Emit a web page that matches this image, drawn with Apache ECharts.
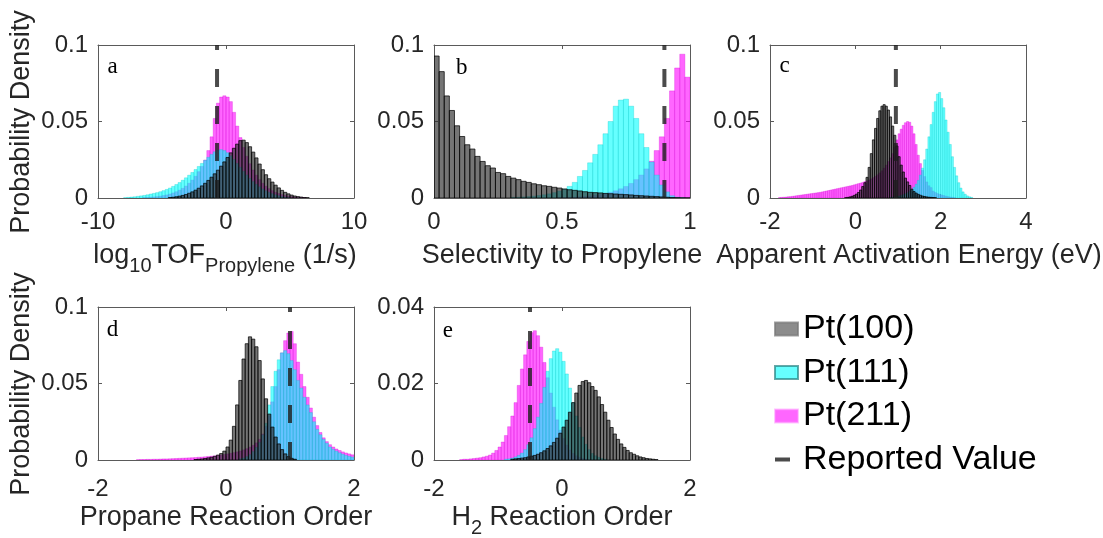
<!DOCTYPE html>
<html><head><meta charset="utf-8">
<script src="https://cdn.jsdelivr.net/npm/echarts@6/dist/echarts.min.js"></script>
<style>html,body{margin:0;padding:0;background:#fff}#c{width:1103px;height:538px}</style>
</head><body><div id="c"></div>
<script>
// ---------------- DATA ----------------
const names = ['Pt(100)', 'Pt(111)', 'Pt(211)'];
const reportedName = 'Reported Value';
const letters = ['a', 'b', 'c', 'd', 'e'];
const xMin = [-10, 0, -2, -2, -2];
const xMax = [10, 1, 4, 2, 2];
const xStep = [10, 0.5, 2, 2, 2];
const yMax = [0.1, 0.1, 0.1, 0.1, 0.04];
const yStep = [0.05, 0.05, 0.05, 0.05, 0.02];
const reported = [-0.7, 0.9, 0.95, 1.0, -0.5];
const binWidth = [0.25, 0.02, 0.05, 0.05, 0.05];

// panel a : log10 TOF
const aGrayStart = -4.5;
const aGray = [0.0003,0.0005,0.0008,0.0012,0.0017,0.0023,0.0031,0.0040,0.0051,0.0064,0.0079,0.0096,0.0115,0.0136,0.0158,0.0182,0.0208,0.0236,0.0265,0.0295,0.0325,0.0352,0.0375,0.0378,0.0362,0.0335,0.0300,0.0262,0.0222,0.0185,0.0152,0.0126,0.0104,0.0084,0.0066,0.0050,0.0037,0.0027,0.0019,0.0013,0.0009,0.0006,0.0003,0.0002];
const aCyanStart = -8;
const aCyan = [0.0002,0.0004,0.0006,0.0008,0.0011,0.0014,0.0017,0.0021,0.0026,0.0030,0.0035,0.0041,0.0048,0.0056,0.0065,0.0076,0.0088,0.0101,0.0116,0.0132,0.0149,0.0167,0.0186,0.0206,0.0226,0.0246,0.0266,0.0285,0.0302,0.0313,0.0316,0.0310,0.0296,0.0276,0.0252,0.0226,0.0200,0.0174,0.0150,0.0128,0.0107,0.0089,0.0073,0.0059,0.0047,0.0037,0.0028,0.0021,0.0015,0.0010,0.0006,0.0003];
const aMagStart = -6.5;
const aMag = [0.0002,0.0003,0.0005,0.0007,0.0009,0.0012,0.0016,0.0020,0.0026,0.0033,0.0041,0.0051,0.0063,0.0078,0.0096,0.0117,0.0142,0.0172,0.0206,0.0248,0.0310,0.0400,0.0520,0.0620,0.0660,0.0668,0.0660,0.0630,0.0560,0.0470,0.0395,0.0330,0.0272,0.0224,0.0183,0.0149,0.0120,0.0096,0.0077,0.0061,0.0048,0.0037,0.0029,0.0022,0.0016,0.0012,0.0009,0.0006,0.0004,0.0003,0.0002];

// panel b : selectivity
const bGrayStart = 0;
const bGray = [0.0928,0.0826,0.0667,0.0572,0.0472,0.0402,0.0348,0.0320,0.0272,0.0239,0.0211,0.0196,0.0167,0.0159,0.0141,0.0130,0.0120,0.0109,0.0102,0.0093,0.0087,0.0080,0.0076,0.0070,0.0065,0.0059,0.0054,0.0050,0.0046,0.0041,0.0037,0.0035,0.0033,0.0030,0.0028,0.0026,0.0024,0.0022,0.0020,0.0017,0.0015,0.0013,0.0011,0.0009,0.0007,0.0005,0.0003,0.0002,0.0001,0.0001];
const bCyanStart = 0.30;
const bCyan = [0.0004,0.0005,0.0007,0.0009,0.0012,0.0016,0.0021,0.0027,0.0035,0.0045,0.0058,0.0076,0.0102,0.0141,0.0180,0.0230,0.0285,0.0348,0.0420,0.0500,0.0600,0.0640,0.0646,0.0600,0.0520,0.0420,0.0330,0.0235,0.0150,0.0085,0.0040,0.0015,0.0005,0.0002];
const bMagStart = 0.48;
const bMag = [0.0002,0.0003,0.0004,0.0006,0.0008,0.0010,0.0013,0.0017,0.0022,0.0029,0.0037,0.0047,0.0060,0.0075,0.0095,0.0120,0.0150,0.0190,0.0240,0.0310,0.0400,0.0520,0.0700,0.0850,0.0940,0.0790];

// panel c : apparent activation energy
const cGrayStart = -0.25;
const cGray = [0.0002,0.0004,0.0007,0.0011,0.0017,0.0025,0.0036,0.0052,0.0075,0.0100,0.0135,0.0200,0.0290,0.0380,0.0455,0.0520,0.0570,0.0600,0.0610,0.0600,0.0575,0.0530,0.0470,0.0410,0.0340,0.0270,0.0215,0.0170,0.0130,0.0105,0.0082,0.0058,0.0042,0.0032,0.0024,0.0018,0.0013,0.0010,0.0007,0.0005,0.0004,0.0003,0.0002];
const cCyanStart = 0.80;
const cCyan = [0.0003,0.0005,0.0007,0.0010,0.0013,0.0017,0.0022,0.0028,0.0035,0.0044,0.0055,0.0070,0.0090,0.0115,0.0150,0.0195,0.0250,0.0320,0.0400,0.0480,0.0560,0.0630,0.0680,0.0690,0.0650,0.0590,0.0510,0.0430,0.0350,0.0270,0.0200,0.0145,0.0100,0.0065,0.0040,0.0025,0.0014,0.0008,0.0004];
const cMagStart = -1.8;
const cMag = [0.0003,0.0004,0.0005,0.0006,0.0008,0.0009,0.0011,0.0013,0.0015,0.0017,0.0019,0.0021,0.0023,0.0025,0.0027,0.0029,0.0031,0.0033,0.0035,0.0037,0.0040,0.0043,0.0046,0.0049,0.0052,0.0055,0.0058,0.0061,0.0064,0.0067,0.0070,0.0073,0.0076,0.0079,0.0082,0.0086,0.0090,0.0094,0.0098,0.0102,0.0107,0.0112,0.0118,0.0125,0.0133,0.0142,0.0152,0.0164,0.0178,0.0195,0.0215,0.0238,0.0262,0.0290,0.0330,0.0380,0.0420,0.0450,0.0475,0.0492,0.0500,0.0495,0.0470,0.0420,0.0350,0.0280,0.0225,0.0180,0.0140,0.0105,0.0080,0.0068,0.0045,0.0036,0.0029,0.0024,0.0020,0.0016,0.0012,0.0009,0.0006,0.0004,0.0002];

// panel d : propane reaction order
const dGrayStart = -0.5;
const dGray = [0.0003,0.0005,0.0007,0.0010,0.0014,0.0018,0.0024,0.0032,0.0042,0.0058,0.0085,0.0130,0.0220,0.0360,0.0520,0.0660,0.0760,0.0805,0.0790,0.0740,0.0650,0.0530,0.0400,0.0300,0.0215,0.0150,0.0105,0.0068,0.0040,0.0022,0.0011,0.0005];
const dCyanStart = 0.2;
const dCyan = [0.0008,0.0013,0.0022,0.0035,0.0055,0.0082,0.0115,0.0165,0.0240,0.0360,0.0480,0.0580,0.0655,0.0700,0.0715,0.0695,0.0650,0.0590,0.0520,0.0470,0.0410,0.0360,0.0310,0.0250,0.0200,0.0165,0.0135,0.0110,0.0085,0.0070,0.0058,0.0047,0.0038,0.0030,0.0024,0.0019];
const dMagStart = -1.4;
const dMag = [0.0002,0.0003,0.0003,0.0004,0.0004,0.0005,0.0005,0.0006,0.0007,0.0007,0.0008,0.0009,0.0010,0.0011,0.0012,0.0013,0.0014,0.0015,0.0016,0.0018,0.0019,0.0021,0.0023,0.0025,0.0027,0.0030,0.0033,0.0036,0.0040,0.0044,0.0048,0.0053,0.0059,0.0066,0.0074,0.0084,0.0096,0.0112,0.0135,0.0170,0.0220,0.0290,0.0380,0.0480,0.0590,0.0700,0.0780,0.0830,0.0840,0.0760,0.0640,0.0560,0.0480,0.0410,0.0340,0.0280,0.0225,0.0180,0.0145,0.0120,0.0100,0.0085,0.0072,0.0062,0.0053,0.0046,0.0040,0.0034];

// panel e : H2 reaction order
const eGrayStart = -0.8;
const eGray = [0.0002,0.0003,0.0004,0.0005,0.0006,0.0008,0.0010,0.0012,0.0015,0.0019,0.0024,0.0030,0.0037,0.0046,0.0057,0.0070,0.0086,0.0104,0.0125,0.0150,0.0175,0.0195,0.0205,0.0208,0.0202,0.0192,0.0182,0.0165,0.0145,0.0125,0.0104,0.0085,0.0068,0.0054,0.0042,0.0033,0.0025,0.0019,0.0015,0.0011,0.0008,0.0006,0.0004,0.0003,0.0002,0.0001];
const eCyanStart = -0.9;
const eCyan = [0.0002,0.0003,0.0005,0.0008,0.0012,0.0018,0.0027,0.0040,0.0058,0.0082,0.0112,0.0148,0.0190,0.0232,0.0265,0.0285,0.0291,0.0282,0.0258,0.0225,0.0188,0.0150,0.0115,0.0085,0.0060,0.0041,0.0027,0.0017,0.0011,0.0007,0.0004,0.0002];
const eMagStart = -1.6;
const eMag = [0.0001,0.0002,0.0002,0.0003,0.0004,0.0005,0.0006,0.0008,0.0010,0.0013,0.0018,0.0025,0.0034,0.0047,0.0064,0.0087,0.0115,0.0150,0.0195,0.0238,0.0275,0.0310,0.0333,0.0338,0.0325,0.0295,0.0255,0.0215,0.0175,0.0138,0.0105,0.0078,0.0056,0.0039,0.0026,0.0017,0.0011,0.0007,0.0004,0.0002];

const panels = [
  {gray: aGray, gs: aGrayStart, cyan: aCyan, cs: aCyanStart, mag: aMag, ms: aMagStart},
  {gray: bGray, gs: bGrayStart, cyan: bCyan, cs: bCyanStart, mag: bMag, ms: bMagStart},
  {gray: cGray, gs: cGrayStart, cyan: cCyan, cs: cCyanStart, mag: cMag, ms: cMagStart},
  {gray: dGray, gs: dGrayStart, cyan: dCyan, cs: dCyanStart, mag: dMag, ms: dMagStart},
  {gray: eGray, gs: eGrayStart, cyan: eCyan, cs: eCyanStart, mag: eMag, ms: eMagStart}
];

// ---------------- LAYOUT / STYLE ----------------
const FONT = '"Liberation Sans", Arial, Helvetica, sans-serif';
const SERIF = '"Liberation Serif", "Times New Roman", serif';
const TXT = '#262626';
const AX = '#5a5a5a';
const grids = [
  {left: 98, top: 45, width: 256, height: 153},
  {left: 434, top: 45, width: 256, height: 153},
  {left: 770, top: 45, width: 256, height: 153},
  {left: 98, top: 307, width: 256, height: 153},
  {left: 434, top: 307, width: 256, height: 153}
];
const xLabelMargin = [12, 12, 12, 17, 17];
// legend swatch style (itemStyle) and bar style (drawn)
const STY = {
  'Pt(100)': {legendFill: 'rgba(64,64,64,0.6)', legendStroke: 'rgba(120,120,120,0.7)',
              fill: 'rgba(45,45,45,0.66)', stroke: 'rgba(0,0,0,0.9)', lw: 0.8},
  'Pt(111)': {legendFill: 'rgba(0,255,255,0.6)', legendStroke: 'rgba(40,130,130,0.7)',
              fill: 'rgba(0,255,255,0.6)', stroke: 'rgba(0,200,200,0.6)', lw: 0.5},
  'Pt(211)': {legendFill: 'rgba(255,0,255,0.6)', legendStroke: 'rgba(255,140,255,0.5)',
              fill: 'rgba(255,0,255,0.6)', stroke: 'rgba(210,0,210,0.6)', lw: 0.5}
};
const DASH = 'rgba(30,30,30,0.8)';

const xAxis = [], yAxis = [], series = [];
grids.forEach((g, i) => {
  const common = {gridIndex: i, type: 'value', splitLine: {show: false},
    axisLine: {show: true, onZero: false, lineStyle: {color: AX, width: 1}},
    axisTick: {show: true, inside: true, length: 4, lineStyle: {color: AX}}};
  xAxis.push(Object.assign({}, common, {position: 'bottom', min: xMin[i], max: xMax[i], interval: xStep[i],
    axisLabel: {show: true, margin: xLabelMargin[i], fontSize: 24, color: TXT, fontFamily: FONT, showMinLabel: true, showMaxLabel: true}}));
  xAxis.push(Object.assign({}, common, {position: 'top', min: xMin[i], max: xMax[i], interval: xStep[i], axisLabel: {show: false}}));
  yAxis.push(Object.assign({}, common, {position: 'left', min: 0, max: yMax[i], interval: yStep[i],
    axisLabel: {show: true, margin: 10, fontSize: 24, color: TXT, fontFamily: FONT, showMinLabel: true, showMaxLabel: true}}));
  yAxis.push(Object.assign({}, common, {position: 'right', min: 0, max: yMax[i], interval: yStep[i], axisLabel: {show: false}}));
});

function hist(name, gi, start, w, vals) {
  const st = STY[name];
  const data = vals.map((v, k) => [start + k * w, start + (k + 1) * w, v]);
  return {
    type: 'custom', name: name, xAxisIndex: 2 * gi, yAxisIndex: 2 * gi, data: data,
    encode: {x: [0, 1], y: 2}, clip: true, silent: true,
    itemStyle: {color: st.legendFill, borderColor: st.legendStroke, borderWidth: 0.5},
    renderItem: function (params, api) {
      const p0 = api.coord([api.value(0), api.value(2)]);
      const p1 = api.coord([api.value(1), 0]);
      return {type: 'rect', shape: {x: p0[0], y: p0[1], width: p1[0] - p0[0], height: p1[1] - p0[1]},
        style: {fill: st.fill, stroke: st.stroke, lineWidth: st.lw}};
    }
  };
}

panels.forEach((p, i) => {
  const w = binWidth[i];
  series.push(hist('Pt(211)', i, p.ms, w, p.mag));
  series.push(hist('Pt(111)', i, p.cs, w, p.cyan));
  series.push(hist('Pt(100)', i, p.gs, w, p.gray));
  series.push({type: 'line', name: reportedName, xAxisIndex: 2 * i, yAxisIndex: 2 * i,
    data: [[reported[i], 0], [reported[i], yMax[i]]], symbol: 'none', silent: true, z: 5,
    itemStyle: {color: DASH},
    lineStyle: {color: DASH, width: 4, type: [18, 19], cap: 'butt'}});
});

// ---------- text helpers (axis titles with subscripts) ----------
const ctx = document.createElement('canvas').getContext('2d');
function measure(t, size) { ctx.font = size + 'px ' + FONT; return ctx.measureText(t).width; }
function titleRow(parts, cx, cy) {
  const MAIN = 27, SUB = 20;
  const ws = parts.map(p => measure(p[0], p[1] ? SUB : MAIN));
  const total = ws.reduce((a, b) => a + b, 0);
  let x = cx - total / 2;
  const out = [];
  parts.forEach((p, k) => {
    out.push({type: 'text', x: x, y: p[1] ? cy + 10 : cy, silent: true,
      style: {text: p[0], fontSize: p[1] ? SUB : MAIN, fontFamily: FONT, fill: TXT,
        align: 'left', verticalAlign: 'middle', textAlign: 'left', textVerticalAlign: 'middle'}});
    x += ws[k];
  });
  return out;
}
const graphic = [];
[[[['log', 0], ['10', 1], ['TOF', 0], ['Propylene', 1], [' (1/s)', 0]], 225, 256],
 [[['Selectivity to Propylene', 0]], 562, 256],
 [[['Apparent Activation Energy (eV)', 0]], 909, 256],
 [[['Propane Reaction Order', 0]], 226, 518],
 [[['H', 0], ['2', 1], [' Reaction Order', 0]], 562, 518]
].forEach(r => titleRow(r[0], r[1], r[2]).forEach(e => graphic.push(e)));
[122, 384].forEach(cy => graphic.push({type: 'text', x: 22, y: cy, rotation: Math.PI / 2, silent: true,
  style: {text: 'Probability Density', fontSize: 27, fontFamily: FONT, fill: TXT,
    align: 'center', verticalAlign: 'middle', textAlign: 'center', textVerticalAlign: 'middle'}}));
const letterPos = [[107.5, 66.5], [456, 68], [779.5, 66], [106.7, 329.5], [442.7, 330.5]];
letters.forEach((l, i) => graphic.push({type: 'text', x: letterPos[i][0], y: letterPos[i][1], silent: true,
  style: {text: l, fontSize: 23, fontFamily: SERIF, fill: '#000',
    align: 'left', verticalAlign: 'middle', textAlign: 'left', textVerticalAlign: 'middle'}}));

const option = {
  animation: false,
  backgroundColor: '#fff',
  grid: grids,
  xAxis: xAxis,
  yAxis: yAxis,
  series: series,
  graphic: graphic,
  legend: {
    orient: 'vertical', left: 769, top: 307, itemWidth: 23, itemHeight: 13, itemGap: 9.5,
    selectedMode: false,
    textStyle: {fontSize: 34, color: '#000', fontFamily: FONT},
    data: [{name: 'Pt(100)', icon: 'rect'}, {name: 'Pt(111)', icon: 'rect'}, {name: 'Pt(211)', icon: 'rect'},
      {name: reportedName, icon: 'path://M0,0M0,4.5h15v4h-15zM23,13'}]
  }
};
const chart = echarts.init(document.getElementById('c'), null, {renderer: 'canvas'});
chart.setOption(option);
</script>
</body></html>
